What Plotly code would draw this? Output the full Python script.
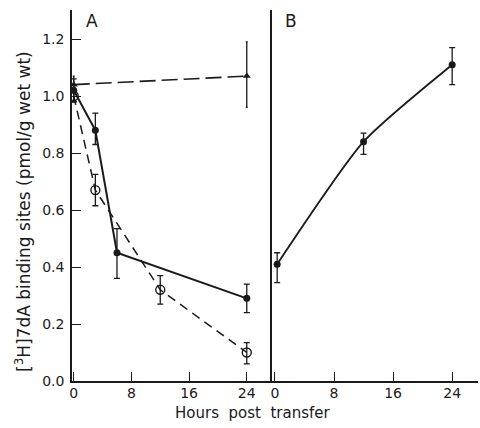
import plotly.graph_objects as go

# Panel A data
hours_tri = [0, 24]
tri_vals = [1.04, 1.07]
tri_err_plus = [0.03, 0.12]
tri_err_minus = [0.06, 0.11]

hours_filled = [0, 3, 6, 24]
filled_vals = [1.02, 0.88, 0.45, 0.29]
filled_err_plus = [0.04, 0.06, 0.085, 0.05]
filled_err_minus = [0.04, 0.05, 0.09, 0.05]

hours_open = [0, 3, 12, 24]
open_vals = [1.0, 0.67, 0.32, 0.10]
open_err_plus = [0.02, 0.055, 0.05, 0.035]
open_err_minus = [0.02, 0.055, 0.05, 0.04]

# Panel B data
hours_B = [0.3, 12, 24]
B_vals = [0.41, 0.84, 1.11]
B_err_plus = [0.04, 0.03, 0.06]
B_err_minus = [0.065, 0.045, 0.07]

x_ticks = [0, 8, 16, 24]
y_ticks = [0.0, 0.2, 0.4, 0.6, 0.8, 1.0, 1.2]
y_labels = ["0.0", "0.2", "0.4", "0.6", "0.8", "1.0", "1.2"]

INK = "#1a1a1a"
FONT = "DejaVu Sans"

fig = go.Figure()

def err(plus, minus, width=3):
    return dict(type="data", array=plus, arrayminus=minus, color=INK,
                thickness=1.3, width=width, visible=True)

fig.add_trace(go.Scatter(
    x=hours_tri, y=tri_vals, mode="lines+markers",
    line=dict(color=INK, width=1.6, dash="16px,6px"),
    marker=dict(symbol="triangle-up", size=7, color=INK),
    error_y=err(tri_err_plus, tri_err_minus, width=1),
    xaxis="x", yaxis="y", showlegend=False))

fig.add_trace(go.Scatter(
    x=hours_open, y=open_vals, mode="lines+markers",
    line=dict(color=INK, width=1.5, dash="9px,6px"),
    marker=dict(symbol="circle-open", size=9, color=INK, line=dict(width=1.4, color=INK)),
    error_y=err(open_err_plus, open_err_minus),
    xaxis="x", yaxis="y", showlegend=False))

fig.add_trace(go.Scatter(
    x=hours_filled, y=filled_vals, mode="lines+markers",
    line=dict(color=INK, width=2),
    marker=dict(symbol="circle", size=7, color=INK),
    error_y=err(filled_err_plus, filled_err_minus),
    xaxis="x", yaxis="y", showlegend=False))

fig.add_trace(go.Scatter(
    x=hours_B, y=B_vals, mode="lines+markers",
    line=dict(color=INK, width=1.8, shape="spline", smoothing=0.6),
    marker=dict(symbol="circle", size=7, color=INK),
    error_y=err(B_err_plus, B_err_minus),
    xaxis="x2", yaxis="y2", showlegend=False))

axis_common = dict(
    showline=True, linecolor=INK, linewidth=1.5, showgrid=False, zeroline=False,
    ticks="inside", ticklen=9, tickwidth=1.3, tickcolor=INK,
    tickfont=dict(family=FONT, size=14, color=INK),
)

split = 200 / 406
W, H = 406, 371

def px(xp, yp):
    return (xp - 72) / W, (381 - yp) / H

ax, ay = px(92, 21)
bx, by = px(291, 21)
tx, ty = px(252, 413)
yx, yy = px(23, 212)

fig.update_layout(
    width=480, height=428,
    margin=dict(l=72, r=2, t=10, b=47),
    paper_bgcolor="white", plot_bgcolor="white",
    xaxis=dict(domain=[0, split], range=[-0.24, 27.5], tickvals=x_ticks,
               ticktext=[str(v) for v in x_ticks], anchor="y",
               ticklabelstandoff=-2, **axis_common),
    xaxis2=dict(domain=[split, 1], range=[-0.4, 27.5], tickvals=x_ticks,
                ticktext=[str(v) for v in x_ticks], anchor="y2",
                ticklabelstandoff=-2, **axis_common),
    yaxis=dict(domain=[0, 1], range=[0, 1.302], tickvals=y_ticks, ticktext=y_labels,
               anchor="x", ticklabelstandoff=3, **axis_common),
    yaxis2=dict(domain=[0, 1], range=[0, 1.302], anchor="x2", showticklabels=False,
                showline=True, linecolor=INK, linewidth=1.5, showgrid=False,
                zeroline=False, ticks=""),
    annotations=[
        dict(text="A", x=ax, y=ay, xref="paper", yref="paper", showarrow=False,
             xanchor="center", yanchor="middle", font=dict(family=FONT, size=17, color=INK)),
        dict(text="B", x=bx, y=by, xref="paper", yref="paper", showarrow=False,
             xanchor="center", yanchor="middle", font=dict(family=FONT, size=17, color=INK)),
        dict(text="Hours  post  transfer", x=tx, y=ty, xref="paper", yref="paper",
             showarrow=False, xanchor="center", yanchor="middle",
             font=dict(family=FONT, size=15, color=INK)),
        dict(text="[<sup>3</sup>H]7dA binding sites (pmol/g wet wt)", x=yx, y=yy,
             xref="paper", yref="paper", showarrow=False, textangle=-90,
             xanchor="center", yanchor="middle",
             font=dict(family=FONT, size=17, color=INK)),
    ],
)

fig.write_html("out.html")
